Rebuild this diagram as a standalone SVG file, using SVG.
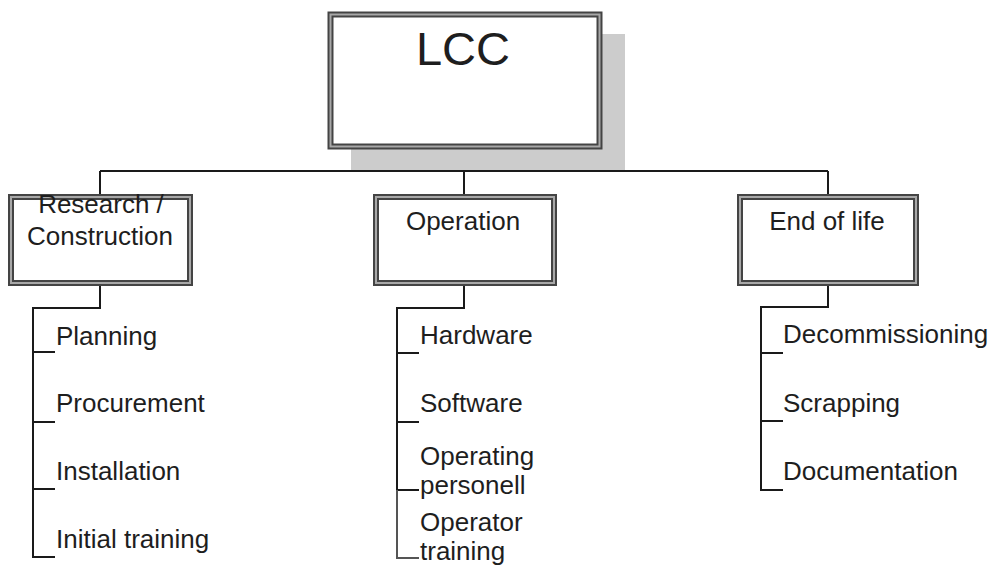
<svg xmlns="http://www.w3.org/2000/svg" width="996" height="566" viewBox="0 0 996 566">
<style>
  .box { fill: #ffffff; stroke: #444444; stroke-width: 6; }
  .band { fill: none; stroke: #a8a8a8; stroke-width: 2; }
  .conn { fill: none; stroke: #1a1a1a; stroke-width: 2; }
  text { font-family: "Liberation Sans", Arial, sans-serif; fill: #1e1e1e; }
  .t { font-size: 26px; }
  .c { text-anchor: middle; }
</style>
<rect x="0" y="0" width="996" height="566" fill="#ffffff"/>
<g id="connectors">
  <path class="conn" d="M100,171 H828"/>
  <path class="conn" d="M464,149 V196"/>
  <path class="conn" d="M100,171 V196"/>
  <path class="conn" d="M828,171 V196"/>
  <path class="conn" d="M100,284 V308 H33 V557 H55 M33,352 H55 M33,422 H55 M33,489 H55"/>
  <path class="conn" d="M464,284 V308 H397 V490 H419 M397,353 H419 M397,422 H419"/>
  <path d="M397,490 V558 H419" fill="none" stroke="#555555" stroke-width="2"/>
  <path class="conn" d="M828,284 V307 H761 V490 H783 M761,353 H783 M761,421 H783"/>
</g>
<g id="lcc">
  <rect x="351" y="34" width="274" height="137" fill="#cccccc"/>
  <path d="M100,171 H828" stroke="#1a1a1a" stroke-width="2"/>
  <rect class="box" x="330.5" y="14.5" width="269" height="132"/>
  <rect class="band" x="330.5" y="14.5" width="269" height="132"/>
  <text x="463" y="65" font-size="47" class="c">LCC</text>
</g>
<g id="research">
  <rect class="box" x="11" y="197" width="179" height="86"/>
  <rect class="band" x="11" y="197" width="179" height="86"/>
  <text class="t c" x="101" y="213">Research /</text>
  <text class="t c" x="100" y="245">Construction</text>
</g>
<g id="operation">
  <rect class="box" x="376" y="197" width="178" height="86"/>
  <rect class="band" x="376" y="197" width="178" height="86"/>
  <text class="t c" x="463" y="230">Operation</text>
</g>
<g id="endoflife">
  <rect class="box" x="740" y="197" width="176" height="86"/>
  <rect class="band" x="740" y="197" width="176" height="86"/>
  <text class="t c" x="827" y="230">End of life</text>
</g>
<g id="planning"><text class="t" x="56" y="345">Planning</text></g>
<g id="procurement"><text class="t" x="56" y="412">Procurement</text></g>
<g id="installation"><text class="t" x="56" y="480">Installation</text></g>
<g id="initial-training"><text class="t" x="56" y="548">Initial training</text></g>
<g id="hardware"><text class="t" x="420" y="344">Hardware</text></g>
<g id="software"><text class="t" x="420" y="412">Software</text></g>
<g id="operating-personell"><text class="t" x="420" y="465">Operating</text><text class="t" x="420" y="494">personell</text></g>
<g id="operator-training"><text class="t" x="420" y="531">Operator</text><text class="t" x="420" y="560">training</text></g>
<g id="decommissioning"><text class="t" x="783" y="343">Decommissioning</text></g>
<g id="scrapping"><text class="t" x="783" y="412">Scrapping</text></g>
<g id="documentation"><text class="t" x="783" y="480">Documentation</text></g>
</svg>
